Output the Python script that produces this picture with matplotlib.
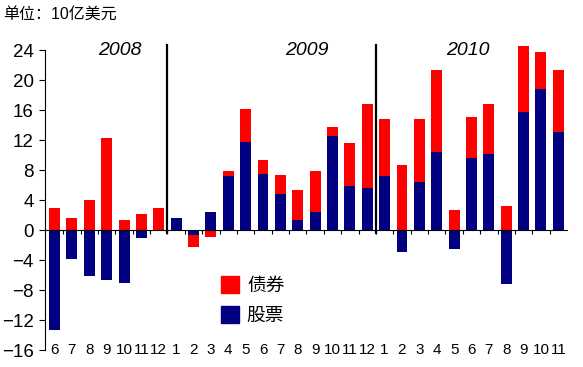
import matplotlib
matplotlib.use('Agg')
import matplotlib.pyplot as plt
import numpy as np
from matplotlib.patches import Patch

plt.rcParams['font.family'] = ['Liberation Sans', 'Noto Sans CJK SC', 'DejaVu Sans']

# 月份标签 (2008-06 .. 2010-11)
months = ['6', '7', '8', '9', '10', '11', '12',
          '1', '2', '3', '4', '5', '6', '7', '8', '9', '10', '11', '12',
          '1', '2', '3', '4', '5', '6', '7', '8', '9', '10', '11']
years = ['2008', '2009', '2010']

# 股票 (equities), 10亿美元
stocks = [-13.3, -3.8, -6.1, -6.7, -7.1, -1.1, 0.0,
          1.6, -0.7, 2.4, 7.2, 11.8, 7.5, 4.8, 1.3, 2.4, 12.5, 5.9, 5.6,
          7.2, -2.9, 6.4, 10.4, -2.5, 9.6, 10.1, -7.2, 15.8, 18.8, 13.1]
# 债券 (bonds)
bonds = [2.9, 1.6, 4.0, 12.3, 1.3, 2.1, 2.9,
         0.0, -1.5, -0.9, 0.7, 4.4, 1.9, 2.5, 4.0, 5.5, 1.2, 5.7, 11.2,
         7.6, 8.7, 8.4, 10.9, 2.7, 5.5, 6.7, 3.2, 8.8, 4.9, 8.2]

stocks = np.array(stocks)
bonds = np.array(bonds)
x = np.arange(len(months))

# 同号时叠加, 异号时从0开始
bond_bottom = np.where(np.sign(bonds) == np.sign(stocks), stocks, 0)

red = '#ff0000'
navy = '#000080'

fig = plt.figure(figsize=(5.83, 3.67), dpi=100)
ax = fig.add_axes([0.0772, 0.0463, 0.8954, 0.848])

ax.bar(x, stocks, width=0.63, color=navy, zorder=2)
ax.bar(x, bonds, bottom=bond_bottom, width=0.63, color=red, zorder=2)

ax.set_xlim(-0.55, 29.5)
ax.set_ylim(-16, 25.5)

# 坐标轴样式
ax.spines['top'].set_visible(False)
ax.spines['right'].set_visible(False)
ax.spines['left'].set_bounds(-16, 24)
ax.spines['bottom'].set_position(('data', 0))
ax.spines['bottom'].set_zorder(3)

ax.set_yticks(np.arange(-16, 25, 4))
ax.tick_params(axis='y', direction='out', length=4, labelsize=13.5, pad=4)

ax.set_xticks(x[:-1] + 0.5)
ax.set_xticklabels([])
ax.tick_params(axis='x', direction='out', length=3)

for i, m in enumerate(months):
    ax.text(i, -16, m, ha='center', va='center', fontsize=11)

# 年份分隔线
for d in [6.5, 18.5]:
    ax.plot([d, d], [-0.4, 24.7], color='black', lw=1.6, zorder=3, clip_on=False)

for xp, yr in zip([3.75, 14.5, 23.8], years):
    ax.text(xp, 24.0, yr, ha='center', va='center', fontsize=14, style='italic')

handles = [Patch(color=red, label='债券'), Patch(color=navy, label='股票')]
ax.legend(handles=handles, loc='upper left', bbox_to_anchor=(0.322, 0.262),
          frameon=False, fontsize=13.5, handlelength=1.0, handleheight=1.0,
          handletextpad=0.4, labelspacing=0.6, borderaxespad=0)

fig.text(0.006, 0.962, '单位：10亿美元', fontsize=11.5, ha='left', va='center')

fig.savefig('out.png', dpi=100)
